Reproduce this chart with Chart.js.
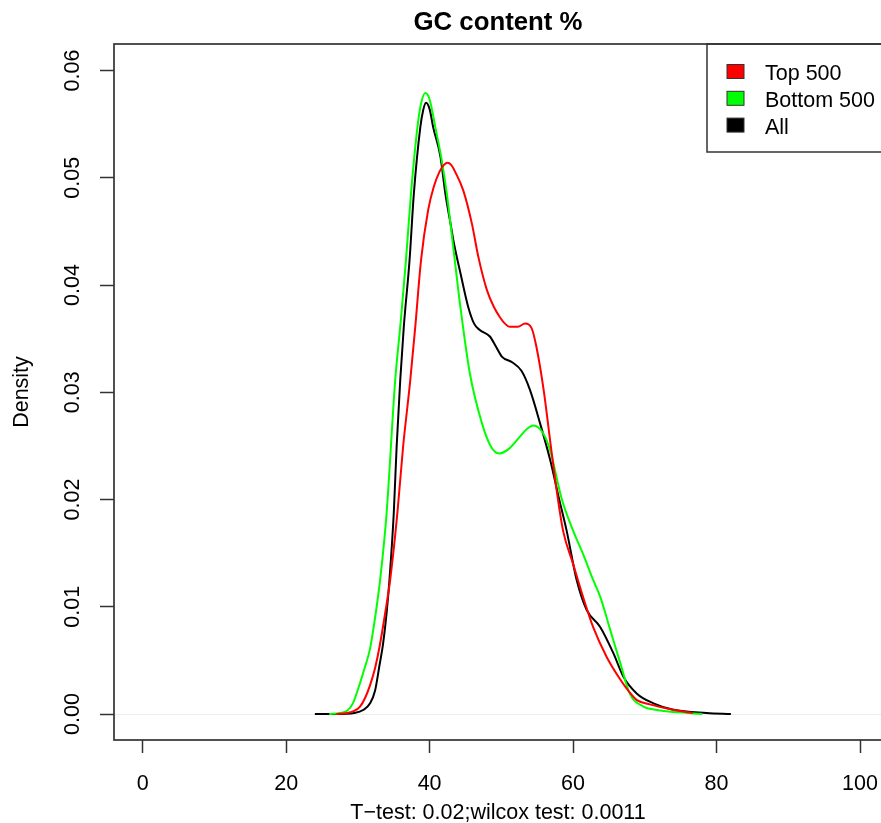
<!DOCTYPE html>
<html>
<head>
<meta charset="utf-8">
<title>GC content %</title>
<script src="https://cdn.jsdelivr.net/npm/chart.js@4.4.0/dist/chart.umd.min.js"></script>
<style>
  html, body { margin: 0; padding: 0; background: #fff; overflow: hidden; }
  #wrap { position: absolute; left: 0; top: 0; width: 900px; height: 823px; }
</style>
</head>
<body>
<div id="wrap"><canvas id="gcChart" width="900" height="823"></canvas></div>
<script>
// density curves (GC content %, density)
const topX = [27, 28.5, 29.5, 30.3, 31.0, 31.7, 32.4, 33.0, 33.8, 34.5, 35.5, 36.3, 37.3, 38.0, 38.8, 39.8, 40.6, 41.4, 42.0, 42.5, 43.0, 43.6, 44.7, 45.9, 46.8, 48.0, 49.0, 49.8, 50.5, 51.2, 52.3, 53.3, 54.2, 54.9, 55.9, 56.8, 57.7, 58.6, 60.0, 61.4, 62.8, 64.7, 66.6, 67.8, 68.9, 70.7, 73.9, 76.7];
const topY = [0, 0.0001, 0.0003, 0.0007, 0.0015, 0.0027, 0.0043, 0.0062, 0.0094, 0.0125, 0.0187, 0.0249, 0.0311, 0.0361, 0.0423, 0.0470, 0.0492, 0.0506, 0.0512, 0.0514, 0.0512, 0.0505, 0.0488, 0.0457, 0.0426, 0.0395, 0.0379, 0.0370, 0.0364, 0.0361, 0.0361, 0.0364, 0.0360, 0.0342, 0.0302, 0.0255, 0.0209, 0.0171, 0.0140, 0.0109, 0.0081, 0.0053, 0.0032, 0.0021, 0.0013, 0.0009, 0.0004, 0.0001];

const bottomX = [26, 27.5, 28.5, 29.3, 30.3, 30.9, 31.7, 32.4, 33.1, 34.0, 35.2, 36.0, 36.7, 37.4, 38.3, 38.8, 39.4, 40.0, 40.8, 41.7, 42.4, 43.3, 44.3, 45.6, 47.3, 48.5, 49.7, 51.0, 52.5, 53.6, 54.5, 55.8, 56.8, 58.4, 60.0, 61.4, 62.8, 63.8, 65.2, 66.6, 67.9, 69.8, 71.5, 73.9, 76, 78];
const bottomY = [0, 0.0001, 0.0003, 0.0010, 0.0029, 0.0042, 0.0061, 0.0090, 0.0125, 0.0187, 0.0311, 0.0368, 0.0423, 0.0485, 0.0547, 0.0569, 0.0579, 0.0573, 0.0547, 0.0516, 0.0485, 0.0435, 0.0379, 0.0318, 0.0271, 0.0250, 0.0243, 0.0247, 0.0258, 0.0266, 0.0269, 0.0262, 0.0246, 0.0201, 0.0171, 0.0149, 0.0125, 0.0109, 0.0078, 0.0047, 0.0019, 0.0007, 0.0004, 0.0002, 0.0001, 0];

const allX = [24, 27, 29.5, 30.8, 31.7, 32.4, 33.0, 33.5, 34.0, 34.4, 35.0, 35.4, 35.9, 36.4, 37.2, 37.8, 38.7, 39.1, 39.5, 40.0, 40.5, 41.5, 42.2, 43.0, 43.3, 44.3, 45.4, 46.2, 47.0, 48.4, 49.3, 50.1, 51.5, 52.8, 54.0, 55.4, 56.8, 58.0, 59.1, 60.5, 61.9, 63.8, 65.6, 67.0, 68.9, 71.2, 74.0, 78.6, 82];
const allY = [0, 0, 0.0001, 0.0004, 0.0010, 0.0022, 0.0045, 0.0065, 0.0094, 0.0125, 0.0187, 0.0249, 0.0311, 0.0361, 0.0423, 0.0485, 0.0547, 0.0563, 0.0570, 0.0564, 0.0547, 0.0520, 0.0485, 0.0454, 0.0442, 0.0411, 0.0379, 0.0364, 0.0358, 0.0352, 0.0342, 0.0333, 0.0328, 0.0320, 0.0302, 0.0271, 0.0237, 0.0202, 0.0171, 0.0125, 0.0097, 0.0081, 0.0057, 0.0035, 0.0019, 0.0010, 0.0004, 0.0001, 0];

const xTicks = [0, 20, 40, 60, 80, 100];
const xTickLabels = ["0", "20", "40", "60", "80", "100"];
const yTicks = [0, 0.01, 0.02, 0.03, 0.04, 0.05, 0.06];
const yTickLabels = ["0.00", "0.01", "0.02", "0.03", "0.04", "0.05", "0.06"];

const seriesNames = ["Top 500", "Bottom 500", "All"];

const FONT = "'Liberation Sans', Arial, Helvetica, sans-serif";
const AXIS_COLOR = "#333";

function toPoints(xs, ys) {
  return xs.map((x, i) => ({ x: x, y: ys[i] }));
}

// frame, texts, tick labels and legend, drawn the way R's base graphics does
const rDecor = {
  id: "rDecor",
  afterDraw(chart) {
    const { ctx, chartArea } = chart;
    const xs = chart.scales.x;
    const ys = chart.scales.y;
    ctx.save();

    // plot frame
    ctx.strokeStyle = AXIS_COLOR;
    ctx.lineWidth = 1.7;
    ctx.strokeRect(chartArea.left, chartArea.top, chartArea.right - chartArea.left, chartArea.bottom - chartArea.top);

    ctx.fillStyle = "#000";

    // x tick labels
    ctx.font = "21.5px " + FONT;
    ctx.textAlign = "center";
    ctx.textBaseline = "alphabetic";
    xTicks.forEach((v, i) => {
      ctx.fillText(xTickLabels[i], xs.getPixelForValue(v), 790);
    });

    // y tick labels, rotated
    yTicks.forEach((v, i) => {
      ctx.save();
      ctx.translate(79, ys.getPixelForValue(v));
      ctx.rotate(-Math.PI / 2);
      ctx.fillText(yTickLabels[i], 0, 0);
      ctx.restore();
    });

    // axis titles
    ctx.save();
    ctx.translate(28, (chartArea.top + chartArea.bottom) / 2);
    ctx.rotate(-Math.PI / 2);
    ctx.fillText("Density", 0, 0);
    ctx.restore();
    ctx.fillText("T\u2212test: 0.02;wilcox test: 0.0011", 498, 819);

    ctx.font = "bold 25.8px " + FONT;
    ctx.fillText("GC content %", 498, 30);

    // legend
    ctx.strokeStyle = AXIS_COLOR;
    ctx.lineWidth = 1.5;
    ctx.strokeRect(707, chartArea.top, 300, 108);
    ctx.font = "21.5px " + FONT;
    ctx.textAlign = "left";
    chart.data.datasets.forEach((ds, i) => {
      const cy = 71.5 + i * 26.8;
      ctx.fillStyle = ds.borderColor;
      ctx.fillRect(727, cy - 7, 17, 14);
      ctx.lineWidth = 1;
      ctx.strokeStyle = AXIS_COLOR;
      ctx.strokeRect(727, cy - 7, 17, 14);
      ctx.fillStyle = "#000";
      ctx.fillText(ds.label, 765, cy + 8.5);
    });

    ctx.restore();
  },
};

function initChart() {
  const el = document.getElementById("gcChart");
  const lineStyle = {
    borderWidth: 2,
    pointRadius: 0,
    fill: false,
    cubicInterpolationMode: "monotone",
  };

  new Chart(el, {
    type: "line",
    data: {
      datasets: [
        { label: seriesNames[0], data: toPoints(topX, topY), borderColor: "#ff0000", ...lineStyle },
        { label: seriesNames[1], data: toPoints(bottomX, bottomY), borderColor: "#00ff00", ...lineStyle },
        { label: seriesNames[2], data: toPoints(allX, allY), borderColor: "#000000", ...lineStyle },
      ],
    },
    options: {
      responsive: false,
      animation: false,
      devicePixelRatio: 1,
      layout: { padding: { top: 44, right: 11.3, left: 0, bottom: 0 } },
      plugins: {
        legend: { display: false },
        title: { display: false },
        tooltip: { enabled: false },
      },
      scales: {
        x: {
          type: "linear",
          min: -4,
          max: 104,
          afterBuildTicks: (s) => { s.ticks = xTicks.map((v) => ({ value: v })); },
          afterFit: (s) => { s.height = 83; },
          ticks: { display: false },
          border: { display: false },
          grid: {
            drawOnChartArea: false,
            drawTicks: true,
            tickLength: 13,
            tickColor: AXIS_COLOR,
            tickWidth: 1.5,
          },
        },
        y: {
          type: "linear",
          min: -0.00242,
          max: 0.06247,
          afterBuildTicks: (s) => { s.ticks = yTicks.map((v) => ({ value: v })); },
          afterFit: (s) => { s.width = 114; },
          ticks: { display: false },
          border: { display: false },
          grid: {
            drawOnChartArea: true,
            color: (c) => (c.tick && c.tick.value === 0 ? "#ececec" : "rgba(0,0,0,0)"),
            lineWidth: 1,
            drawTicks: true,
            tickLength: 14,
            tickColor: AXIS_COLOR,
            tickWidth: 1.5,
          },
        },
      },
    },
    plugins: [rDecor],
  });
}

document.addEventListener("DOMContentLoaded", initChart);
</script>
</body>
</html>
